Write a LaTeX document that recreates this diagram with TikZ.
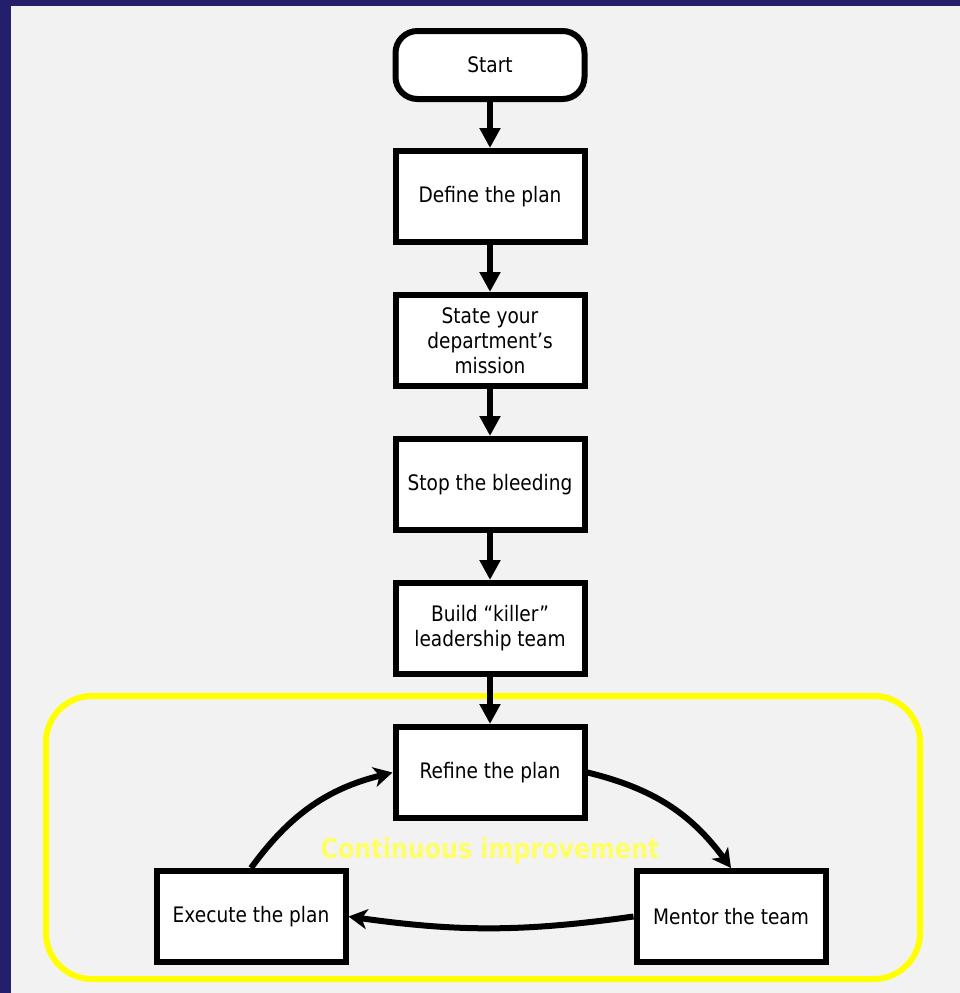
\documentclass[tikz,border=0pt]{standalone}
\usepackage{fontspec}
\setmainfont{DejaVu Sans}[FakeStretch=0.87]
\usetikzlibrary{arrows.meta, positioning}

\definecolor{slideblue}{RGB}{35,31,107}
\definecolor{panelgray}{RGB}{242,242,242}
\definecolor{loopyellow}{RGB}{255,255,0}
\definecolor{labelyellow}{RGB}{255,255,102}

\begin{document}
\begin{tikzpicture}[
    % Styles
    stepbox/.style={draw, line width=4.5pt, fill=white, minimum width=141.75pt, minimum height=68.25pt, align=center, font=\fontsize{16}{18.75}\selectfont},
    startbox/.style={stepbox, rounded corners=16.5pt, minimum height=51pt},
    flow/.style={line width=4.5pt, -{Triangle[length=15pt, width=15pt]}},
    loopflow/.style={line width=4.5pt, -{Stealth[length=14pt, width=15pt, inset=4pt]}},
    loopframe/.style={draw=loopyellow, line width=4.5pt, rounded corners=34.5pt},
    looplabel/.style={font=\bfseries\fontsize{20.5}{24}\selectfont, text=labelyellow, inner sep=0pt},
    node distance=35.25pt
]
    % Slide background and panel
    \fill[slideblue] (0,0) rectangle (720pt,-744.75pt);
    \fill[panelgray] (8.25pt,-4.5pt) rectangle (720pt,-744.75pt);
    \useasboundingbox (0,0) rectangle (720pt,-744.75pt);

    % Continuous improvement frame
    \draw[loopframe] (34.5pt,-522pt) rectangle (690pt,-734.25pt);

    % Main sequence
    \node[startbox] (start) at (367.5pt,-48.75pt) {Start};
    \node[stepbox, below=34.5pt of start] (define) {Define the plan};
    \node[stepbox, below=of define] (mission) {State your\\department’s\\mission};
    \node[stepbox, below=of mission] (bleeding) {Stop the bleeding};
    \node[stepbox, below=of bleeding] (leaders) {Build “killer”\\leadership team};
    \node[stepbox, below=of leaders] (refine) {Refine the plan};

    % Improvement loop
    \node[stepbox, below=of refine, xshift=-179.25pt] (execute) {Execute the plan};
    \node[stepbox, below=of refine, xshift=180.75pt] (mentor) {Mentor the team};
    \node[looplabel, below=12pt of refine] (improve) {Continuous improvement};

    % Arrows
    \draw[flow] (start) -- (define);
    \draw[flow] (define) -- (mission);
    \draw[flow] (mission) -- (bleeding);
    \draw[flow] (bleeding) -- (leaders);
    \draw[flow] (leaders) -- (refine);

    \draw[loopflow] (execute.north) to[bend left=20] (refine.west);
    \draw[loopflow] (refine.east) to[bend left=20] (mentor.north);
    \draw[loopflow] (mentor.west) to[bend left=8] (execute.east);
\end{tikzpicture}
\end{document}
